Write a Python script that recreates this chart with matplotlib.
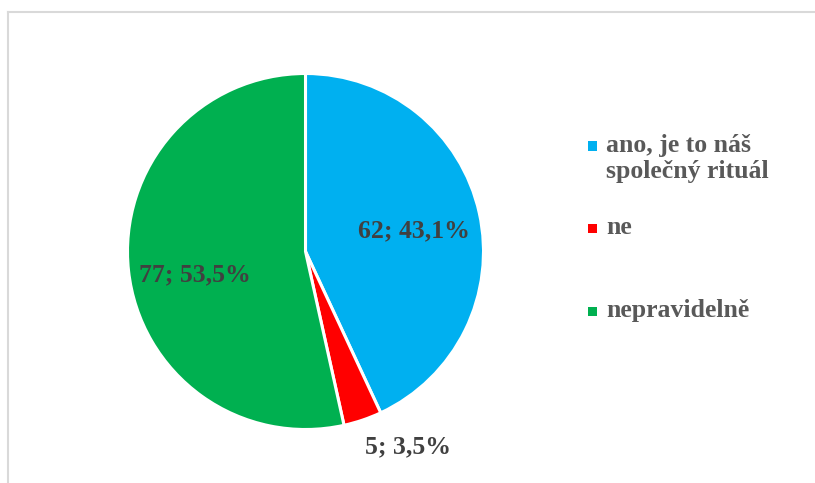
import numpy as np
import matplotlib.pyplot as plt
from matplotlib.patches import Rectangle
from matplotlib.lines import Line2D

categories = ["ano, je to náš\nspolečný rituál", "ne", "nepravidelně"]
counts = [62, 5, 77]
shares = ["43,1%", "3,5%", "53,5%"]
colors = ["#00B0F0", "#FF0000", "#00B050"]

W, H = 815, 483
fig = plt.figure(figsize=(W / 100, H / 100), dpi=100)
fig.patch.set_facecolor("white")

ax = fig.add_axes([0, 0, 1, 1])

# chart frame (top and left edges are visible)
fig.add_artist(Line2D([8 / W, 1], [1 - 12 / H, 1 - 12 / H], color="#D9D9D9", lw=1.5,
                      transform=fig.transFigure))
fig.add_artist(Line2D([8 / W, 8 / W], [0, 1 - 12 / H], color="#D9D9D9", lw=1.5,
                      transform=fig.transFigure))

cx, cy, r = 305.5, H - 251.5, 178
wedges, _ = ax.pie(counts, colors=colors, startangle=90, counterclock=False,
                   center=(cx, cy), radius=r,
                   wedgeprops=dict(edgecolor="white", linewidth=2.2))
ax.set_xlim(0, W)
ax.set_ylim(0, H)
ax.set_aspect("equal")
ax.axis("off")

font = dict(family="Liberation Serif", fontweight="bold", fontsize=18.5)

# label placement: (distance as fraction of radius, angle shift in degrees)
label_pos = [(0.62, -1.5), (1.24, 9.0), (0.635, 5.5)]
for w, n, s, (d, shift) in zip(wedges, counts, shares, label_pos):
    ang = np.deg2rad((w.theta1 + w.theta2) / 2 + shift)
    ax.text(cx + d * r * np.cos(ang), cy + d * r * np.sin(ang), f"{n}; {s}",
            ha="center", va="center", color="#404040", **font)

# legend
leg_y = [146, 228.5, 311]
for c, lab, y in zip(colors, categories, leg_y):
    fig.add_artist(Rectangle(((588) / W, 1 - (y + 4.5) / H), 9 / W, 9 / H,
                             facecolor=c, edgecolor="none", transform=fig.transFigure))
    fig.text(606 / W, 1 - (y - 12) / H, lab, ha="left", va="top", color="#595959",
             linespacing=1.15, **font)

fig.savefig("out.png", dpi=100)
